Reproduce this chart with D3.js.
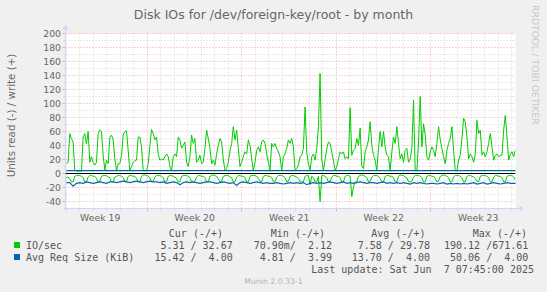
<!DOCTYPE html>
<meta charset="utf-8">
<head>
  <script src="https://cdn.jsdelivr.net/npm/d3@7"></script>
  <style>
    body { margin: 0; background: #f0f0f0; }
    svg text { font-family: "DejaVu Sans", sans-serif; }
    svg text.mono { font-family: "DejaVu Sans Mono", monospace; }
  </style>
</head>
<body>
<div id="graph"></div>
<script>

// ---- data ----
// IO/sec write (+), one sample every ~3h from May 6 00:00
var ioWrite = [
  14, 16, 57, 50, 45, 5, 4, 3, 4, 3,
  52, 57, 42, 60, 16, 24, 16, 12, 16, 57,
  62, 60, 26, 5, 19, 14, 52, 55, 48, 21,
  4, 14, 14, 26, 55, 60, 61, 33, 4, 10,
  16, 18, 19, 52, 52, 38, 4, 4, 4, 14,
  40, 63, 57, 48, 52, 28, 19, 21, 19, 24,
  28, 24, 10, 4, 24, 28, 24, 52, 48, 36,
  40, 45, 16, 10, 24, 55, 43, 50, 16, 19,
  26, 14, 16, 36, 62, 50, 36, 14, 19, 12,
  28, 40, 50, 45, 20, 4, 7, 16, 33, 43,
  67, 48, 62, 36, 10, 16, 24, 31, 28, 48,
  40, 21, 4, 16, 33, 38, 31, 45, 48, 43,
  28, 16, 4, 43, 38, 43, 36,
  31, 24, 4, 24, 28, 36, 48, 43, 50, 38,
  4, 7, 12, 24, 26, 36, 95, 30, 14, 4,
  24, 28, 19, 36, 67, 143, 20, 4, 20, 35,
  45, 43, 30, 18, 4, 10, 21, 31, 28, 31,
  21, 24, 21, 94, 26, 33, 36, 50, 40, 65,
  10, 7, 31, 38, 48, 74, 40, 26, 19, 4,
  36, 60, 38, 60, 38, 26, 24, 4, 31, 52,
  43, 67, 43, 21, 28, 16, 33, 36, 16, 21,
  36, 105, 4, 4, 45, 110, 38, 71, 55, 24,
  19, 31, 38, 33, 24, 43, 67, 48, 36, 24,
  14, 33, 43, 50, 67, 33, 4, 4, 19, 26,
  50, 79, 74, 52, 21, 28, 24, 16, 28, 76,
  57, 62, 26, 31, 24, 31, 43, 57, 38, 19,
  26, 28, 24, 26, 26, 62, 83, 52, 19, 28,
  31, 24, 33
];

// IO/sec read (-), same timeline
var ioRead = [
  -6, -5, -8, -12, -12,
  -4, -3, -3, -3, -4, -6, -12, -12,
  -5, -3, -3, -4, -4, -7, -12, -11,
  -4, -3, -3, -3, -5, -6, -12, -12,
  -5, -4, -3, -3, -4, -6, -11, -12,
  -4, -3, -3, -4, -4, -7, -12, -12,
  -4, -2, -2, -3, -4, -6, -12, -11,
  -5, -3, -3, -3, -4, -6, -12, -12,
  -4, -3, -3, -4, -5, -7, -12, -12,
  -4, -3, -3, -3, -4, -6, -12, -12, -11,
  -5, -3, -3, -4, -4, -6, -12, -12,
  -4, -3, -2, -3, -4, -7, -12, -11,
  -4, -3, -3, -3, -5, -6, -12, -12,
  -5, -3, -3, -4, -4, -6, -12, -12,
  -4, -3, -3, -3, -4, -7, -11, -12,
  -4, -3, -3, -4, -4, -6, -12, -12,
  -5, -3, -3, -3, -4, -6, -12, -11,
  -4, -3, -3, -4, -5, -7, -12, -12, -12,
  -4, -3, -3, -16, -4, -6, -12, -12,
  -4, -40, -3, -3, -4, -6, -12, -11,
  -5, -3, -3, -4, -4, -6, -12, -12,
  -4, -3, -3, -4, -33, -19, -12, -12,
  -4, -3, -2, -3, -4, -6, -12, -11,
  -5, -3, -3, -3, -4, -7, -12, -12,
  -4, -3, -3, -4, -4, -6, -12, -12,
  -4, -2, -3, -3, -5, -6, -12, -12, -11,
  -5, -3, -3, -3, -4, -6, -12, -12,
  -4, -3, -3, -4, -4, -7, -12, -11,
  -4, -3, -2, -3, -4, -6, -12, -12,
  -5, -3, -3, -3, -4, -6, -12, -12,
  -4, -3, -3, -4, -5, -7, -11, -12,
  -4, -3, -3, -3, -4, -6, -12, -12,
  -5, -3, -3, -4, -4, -6, -12, -12,
  -4, -3, -3, -3, -5, -9
];

// Avg Req Size read (-), one sample every 2 steps
var reqRead = [
  -13, -13, -18, -14, -13, -14, -12, -13, -14, -13,
  -12, -13, -14, -12, -12, -13, -12, -11, -12, -13,
  -12, -11, -12, -13, -12, -11, -12, -12, -13, -12,
  -14, -13, -12, -13, -16, -13, -12, -13, -12, -13,
  -14, -13, -12, -12, -13, -14, -13, -12, -13, -14,
  -13, -17, -13, -12, -13, -14, -13, -12, -13, -14,
  -13, -14, -14, -13, -14, -15, -14, -13, -14, -13,
  -14, -13, -16, -14, -13, -14, -13, -14, -13, -12,
  -13, -14, -13, -12, -14, -13, -14, -13, -12, -13,
  -14, -13, -13, -14, -13, -12, -14, -13, -14, -13,
  -14, -13, -14, -15, -13, -14, -13, -14, -15, -14,
  -14, -15, -14, -13, -15, -14, -15, -14, -15, -14,
  -15, -14, -13, -15, -14, -13, -15, -14, -13, -14,
  -15, -14, -13, -14, -14, -14
];

// Avg Req Size write (+), one sample every 9 steps
var reqWrite = [
  4.00, 4.00, 4.00, 4.00, 4.00, 4.00, 4.00, 4.00, 4.00, 4.00,
  4.00, 4.00, 4.00, 4.00, 4.00, 4.00, 4.00, 4.00, 4.00, 4.00,
  4.00, 4.00, 4.00, 4.00, 4.00, 4.00, 4.00, 4.00, 4.00, 4.00, 4.00
];

var yTicks = [-40, -20, 0, 20, 40, 60, 80, 100, 120, 140, 160, 180, 200];
var weekLabels = ["Week 19", "Week 20", "Week 21", "Week 22", "Week 23"];

var legendNames = ["IO/sec", "Avg Req Size (KiB)"];
var legendHead = ["Cur (-/+)", "Min (-/+)", "Avg (-/+)", "Max (-/+)"];
var legendCur = ["5.31 / 32.67", "15.42 /  4.00"];
var legendMin = ["70.90m/  2.12", "4.81 /  3.99"];
var legendAvg = ["7.58 / 29.78", "13.70 /  4.00"];
var legendMax = ["190.12 /671.61", "50.06 /  4.00"];
var lastUpdate = "Last update: Sat Jun  7 07:45:00 2025";

// ---- layout ----
var W = 547, H = 292;
var pLeft = 65.5, pRight = 515.5, pTop = 33.5, pBottom = 208.5;
var green = "#00cc00", blue = "#0066b3";
var axisCol = "#cfd6f8", gridCol = "#d4d4d4", mgridCol = "#f2a9a9";

var svg = d3.select("#graph").append("svg")
    .attr("width", W).attr("height", H);

svg.append("rect").attr("width", W).attr("height", H).attr("fill", "#f0f0f0");

var t0 = new Date(Date.UTC(2025, 4, 5, 22, 20));
var t1 = new Date(Date.UTC(2025, 5, 8, 6, 20));
var dataStart = Date.UTC(2025, 4, 6, 0, 0);
var stepMs = 178 * 60000;

var x = d3.scaleUtc().domain([t0, t1]).range([pLeft, pRight]);
var y = d3.scaleLinear().domain([-50, 200]).range([pBottom, pTop]);

function crisp(v) { return Math.round(v - 0.5) + 0.5; }

function series(vals, every) {
  return vals.map(function(v, i) {
    return { t: new Date(dataStart + i * every * stepMs), v: v };
  });
}

// canvas
svg.append("rect")
  .attr("x", pLeft).attr("y", pTop)
  .attr("width", pRight - pLeft).attr("height", pBottom - pTop)
  .attr("fill", "#fff");

var grid = svg.append("g").attr("stroke-width", 1).attr("stroke-dasharray", "1,2");

// horizontal grid: minor every 10, major every 20
d3.range(-40, 201, 10).forEach(function(v) {
  var major = v % 20 === 0;
  grid.append("line")
    .attr("x1", pLeft).attr("x2", pRight)
    .attr("y1", crisp(y(v))).attr("y2", crisp(y(v)))
    .attr("stroke", major ? mgridCol : gridCol);
  svg.append("line")
    .attr("x1", pLeft - (major ? 3 : 2)).attr("x2", pLeft)
    .attr("y1", crisp(y(v))).attr("y2", crisp(y(v)))
    .attr("stroke", major ? mgridCol : gridCol);
});

// vertical grid: days minor, mondays major
d3.utcDay.range(t0, t1).forEach(function(d) {
  var major = d.getUTCDay() === 1;
  var xv = crisp(x(d));
  grid.append("line")
    .attr("x1", xv).attr("x2", xv)
    .attr("y1", pTop).attr("y2", pBottom)
    .attr("stroke", major ? mgridCol : gridCol);
  svg.append("line")
    .attr("x1", xv).attr("x2", xv)
    .attr("y1", pBottom).attr("y2", pBottom + (major ? 3 : 2))
    .attr("stroke", major ? mgridCol : gridCol);
});

// axes with arrows
svg.append("line").attr("x1", pLeft).attr("x2", pLeft)
  .attr("y1", pBottom + 2).attr("y2", pTop - 4)
  .attr("stroke", axisCol);
svg.append("path").attr("d", "M62.5,29.5 L68.5,29.5 L65.5,25 Z").attr("fill", axisCol);
svg.append("line").attr("x1", pLeft - 2).attr("x2", pRight + 4)
  .attr("y1", pBottom).attr("y2", pBottom)
  .attr("stroke", axisCol);
svg.append("path").attr("d", "M519.5,205.5 L519.5,211.5 L524,208.5 Z").attr("fill", axisCol);

// y tick labels
svg.append("g").selectAll("text").data(yTicks).join("text")
  .attr("x", 61).attr("y", function(d) { return y(d) + 3.6; })
  .attr("text-anchor", "end")
  .attr("font-size", "9.3px").attr("fill", "#666")
  .text(function(d) { return d; });

// week labels centered mid-week
var weekStarts = d3.utcMonday.range(d3.utcMonday.floor(t0), t1);
svg.append("g").selectAll("text").data(weekStarts).join("text")
  .attr("x", function(d) { return x(d3.utcHour.offset(d, 84)); })
  .attr("y", 220.5)
  .attr("text-anchor", "middle")
  .attr("font-size", "9.3px").attr("fill", "#666")
  .text(function(d, i) { return weekLabels[i]; });

// data lines
svg.append("clipPath").attr("id", "plotclip")
  .append("rect").attr("x", pLeft).attr("y", pTop - 1)
  .attr("width", pRight - pLeft).attr("height", pBottom - pTop + 1);

var plot = svg.append("g").attr("clip-path", "url(#plotclip)");

plot.append("line")
  .attr("x1", pLeft).attr("x2", pRight)
  .attr("y1", y(0)).attr("y2", y(0))
  .attr("stroke", "#000");

var line = d3.line()
  .x(function(d) { return x(d.t); })
  .y(function(d) { return y(d.v); });

plot.append("path").datum(series(ioWrite, 1))
  .attr("fill", "none").attr("stroke", green).attr("stroke-width", 1).attr("d", line);
plot.append("path").datum(series(ioRead, 1))
  .attr("fill", "none").attr("stroke", green).attr("stroke-width", 1).attr("d", line);
plot.append("path").datum(series(reqWrite, 9))
  .attr("fill", "none").attr("stroke", blue).attr("stroke-width", 1.2).attr("d", line);
plot.append("path").datum(series(reqRead, 2))
  .attr("fill", "none").attr("stroke", blue).attr("stroke-width", 1.2).attr("d", line);

// title
svg.append("text")
  .attr("x", 273.5).attr("y", 18.5)
  .attr("text-anchor", "middle")
  .attr("font-size", "12.5px").attr("fill", "#666")
  .text("Disk IOs for /dev/foreign-key/root - by month");

// y axis unit label
svg.append("text")
  .attr("transform", "translate(15,115.5) rotate(-90)")
  .attr("text-anchor", "middle")
  .attr("font-size", "10.3px").attr("fill", "#666")
  .text("Units read (-) / write (+)");

// watermark at the right
svg.append("text")
  .attr("transform", "translate(531.5,5) rotate(90)")
  .attr("font-size", "9.3px").attr("fill", "#c8c8c8")
  .text("RRDTOOL / TOBI OETIKER");

// legend
var leg = svg.append("g").attr("fill", "#555").attr("font-size", "10px");
function mono(txt, xx, yy, anchor) {
  leg.append("text").attr("class", "mono")
    .attr("xml:space", "preserve")
    .attr("x", xx).attr("y", yy)
    .attr("text-anchor", anchor || "start")
    .text(txt);
}
var headEnds = [223, 325, 425.5, 527];
var valEnds = [232.7, 332, 430, 528.3];
legendHead.forEach(function(h, i) { mono(h, headEnds[i], 236.7, "end"); });

[green, blue].forEach(function(c, r) {
  var yy = 249 + r * 12;
  svg.append("rect").attr("x", 14).attr("y", yy - 7).attr("width", 6).attr("height", 6).attr("fill", c);
  mono(legendNames[r], 26, yy);
  mono(legendCur[r], valEnds[0], yy, "end");
  mono(legendMin[r], valEnds[1], yy, "end");
  mono(legendAvg[r], valEnds[2], yy, "end");
  mono(legendMax[r], valEnds[3], yy, "end");
});
mono(lastUpdate, 534, 272.7, "end");

svg.append("text")
  .attr("x", 273.5).attr("y", 284.3)
  .attr("text-anchor", "middle")
  .attr("font-size", "7.75px").attr("fill", "#b0b0b0")
  .text("Munin 2.0.33-1");

</script>
</body>
